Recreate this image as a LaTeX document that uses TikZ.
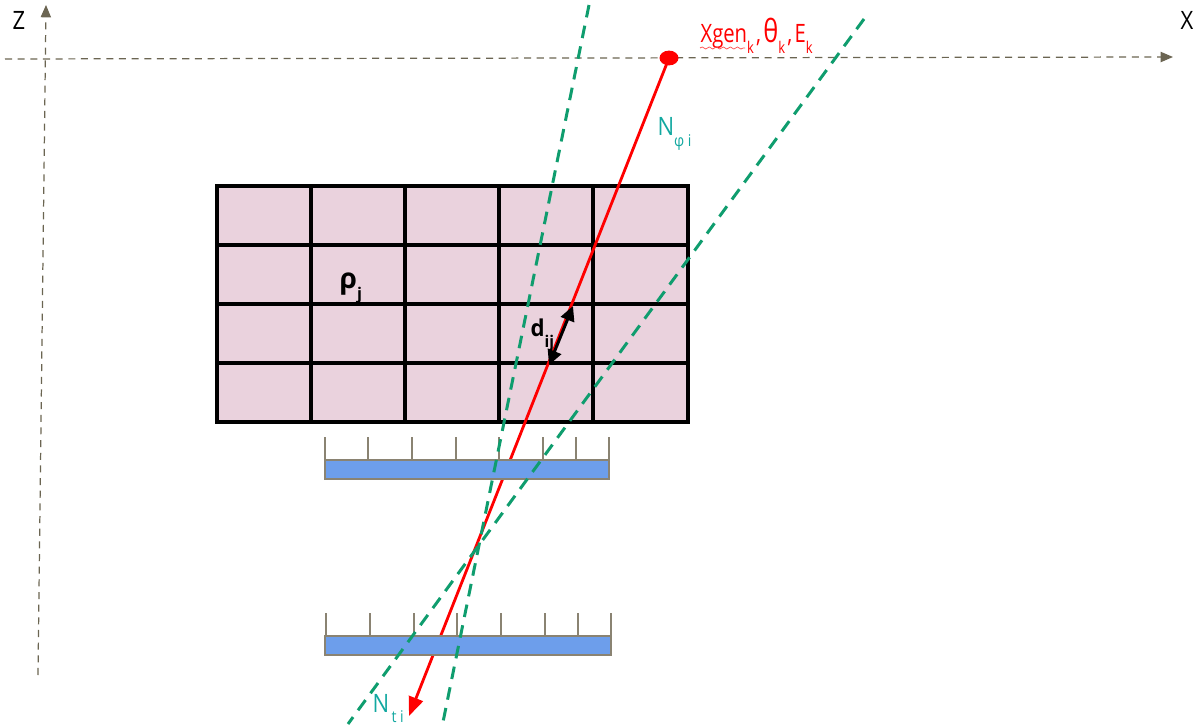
\documentclass[tikz,border=0pt]{standalone}
\usepackage{fontspec}
\setmainfont{Open Sans}
\usetikzlibrary{arrows.meta,decorations.pathmorphing,shapes.geometric}
\definecolor{axis}{HTML}{6B6552}
\definecolor{tick}{HTML}{8A8372}
\definecolor{cell}{HTML}{EAD2DD}
\definecolor{strip}{HTML}{6D9EEB}
\definecolor{track}{HTML}{0F9D6E}
\definecolor{teal}{HTML}{12A8A0}
\definecolor{hit}{HTML}{FF0000}
\tikzset{
  axisline/.style={axis,line width=0.35pt,dash pattern=on 2pt off 1.6pt,-{Triangle[length=3.5pt,width=2.9pt]}},
  gridline/.style={black,line width=1.3pt},
  limit/.style={track,line width=0.85pt,dash pattern=on 3.6pt off 2.4pt},
  label/.style={inner sep=0pt,anchor=base west,xscale=0.87,font=\fontsize{7.2}{8}\selectfont},
}
\newcommand{\lowtext}[1]{\raisebox{-2.9pt}{\fontsize{4.6}{5}\selectfont #1}}
\begin{document}
\begin{tikzpicture}[x=0.01cm,y=-0.01cm]
  \useasboundingbox (0,0) rectangle (1201,728);
  % axes
  \coordinate (xstart) at (5,59);
  \coordinate (xend) at (1173,57);
  \coordinate (zstart) at (38,675);
  \coordinate (zend) at (46,5);
  \draw[axisline] (xstart) -- (xend);
  \draw[axisline] (zstart) -- (zend);
  \node[label] (zlabel) at (12,30) {Z};
  \node[label] (xlabel) at (1180,30) {X};
  % material cells
  \fill[cell] (217,186) rectangle (688,422);
  \foreach \x in {217,311,405,499,593,688} {
    \draw[gridline] (\x,186) -- (\x,422);
  }
  \foreach \y in {186,245,304,363,422} {
    \draw[gridline,line cap=rect] (217,\y) -- (688,\y);
  }
  % muon path
  \node[fill=hit,ellipse,inner sep=0pt,minimum width=5.4pt,minimum height=4.2pt] (vertex) at (669,58) {};
  \coordinate (exit) at (409,716);
  \draw[hit,line width=0.8pt,-{Triangle[length=5.4pt,width=4.2pt]}] (vertex.center) -- (exit);
  % detector planes
  \foreach \y/\xa/\xb/\ticks in {
    460/325/609/{325,368,412,456,499,543,576,609},
    636/325/611/{326,370,414,457,501,545,578,611}} {
    \foreach \x in \ticks {
      \draw[tick,line width=0.35pt] (\x,\y) -- (\x,\y-23);
    }
    \fill[strip] (\xa,\y) rectangle (\xb,\y+19);
    \draw[tick,line width=0.4pt] (\xa,\y) rectangle (\xb,\y+19);
  }
  % limits
  \coordinate (lima) at (589,5);
  \coordinate (limb) at (443,722);
  \coordinate (limc) at (864,19);
  \coordinate (limd) at (348,724);
  \draw[limit] (lima) -- (limb);
  \draw[limit] (limc) -- (limd);
  % distance
  \coordinate (dtop) at (573,306);
  \coordinate (dbot) at (549,365);
  \draw[black,line width=0.85pt,{Triangle[length=4.2pt,width=4pt]}-{Triangle[length=4.2pt,width=4pt]}] (dtop) -- (dbot);
  % labels
  \node[label,hit,xscale=0.92] (gen) at (700,43) {Xgen\lowtext{k}\hspace{0.8pt},\hspace{0.8pt}{\fontsize{9}{9}\selectfont θ}\lowtext{k}\hspace{0.8pt},\hspace{0.8pt}E\lowtext{k}};
  \coordinate (wavya) at (700,48);
  \coordinate (wavyb) at (745,48);
  \draw[hit!70,line width=0.2pt,decorate,decoration={snake,amplitude=0.3pt,segment length=2pt}] (wavya) -- (wavyb);
  \node[label,teal] (nphi) at (657,136) {N\lowtext{φ i}};
  \node[label,teal] (nt) at (372,712) {N\lowtext{\,t i}};
  \node[label,xscale=1.15,font=\fontsize{8}{8}\bfseries\selectfont] (rho) at (339,289) {ρ\lowtext{j}};
  \node[label,xscale=1.1,font=\fontsize{6.6}{8}\bfseries\selectfont] (dij) at (530,337) {d\lowtext{ij}};
\end{tikzpicture}
\end{document}
